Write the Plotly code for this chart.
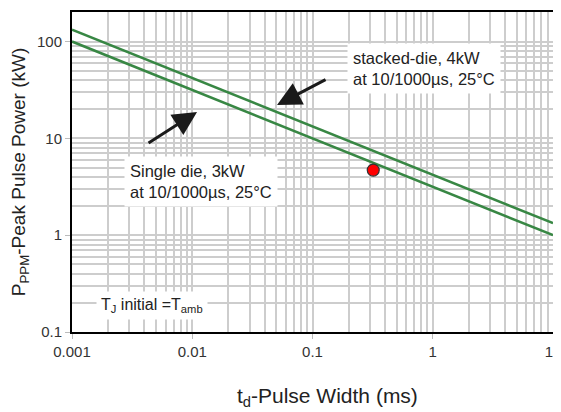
import plotly.graph_objects as go

# Data
pulse_width_ms = [0.001, 0.01, 0.1, 1, 10]
single_die_kw = [100, 31.6, 10, 3.16, 1.0]
stacked_die_kw = [133, 42, 13.3, 4.2, 1.33]
marker_x = [0.32]
marker_y = [4.7]

x_ticks = [0.001, 0.01, 0.1, 1, 10]
x_ticklabels = ["0.001", "0.01", "0.1", "1", "10"]
y_ticks = [0.1, 1, 10, 100]
y_ticklabels = ["0.1", "1", "10", "100"]

green = "rgb(56,135,68)"
font = "Liberation Sans, Arial, sans-serif"

x_minor = [m * 10 ** e for e in range(-3, 1) for m in range(2, 10)]
y_minor = [m * 10 ** e for e in range(-1, 3) for m in range(2, 10)]

fig = go.Figure()
fig.add_trace(go.Scatter(x=pulse_width_ms, y=stacked_die_kw, mode="lines",
                         line=dict(color=green, width=2.5), showlegend=False))
fig.add_trace(go.Scatter(x=pulse_width_ms, y=single_die_kw, mode="lines",
                         line=dict(color=green, width=2.5), showlegend=False))
fig.add_trace(go.Scatter(x=marker_x, y=marker_y, mode="markers",
                         marker=dict(color="red", size=12, line=dict(color="#333", width=1.2)),
                         showlegend=False))

grid_c = "#cdcdcd"
fig.update_xaxes(type="log", range=[-3, 1], tickvals=x_ticks, ticktext=x_ticklabels,
                 showgrid=True, gridcolor=grid_c, gridwidth=1.5,
                 minor=dict(tickvals=x_minor, showgrid=True, gridcolor=grid_c, gridwidth=1.5, ticks=""),
                 ticks="outside", ticklen=5, tickcolor="#bbb",
                 showline=True, mirror=True, linecolor="black", linewidth=2,
                 tickfont=dict(family=font, size=15, color="#333"),
                 ticklabeloverflow="allow",
                 automargin=False, zeroline=False)
fig.update_yaxes(type="log", range=[-1, 2.305], tickvals=y_ticks, ticktext=y_ticklabels,
                 showgrid=True, gridcolor=grid_c, gridwidth=1.5,
                 minor=dict(tickvals=y_minor, showgrid=True, gridcolor=grid_c, gridwidth=1.5, ticks=""),
                 ticks="outside", ticklen=5, tickcolor="#bbb",
                 showline=True, mirror=True, linecolor="black", linewidth=2,
                 tickfont=dict(family=font, size=15, color="#333"),
                 ticklabeloverflow="allow",
                 title=dict(text="P<sub>PPM</sub>-Peak Pulse Power (kW)", font=dict(family=font, size=19, color="#222"),
                            standoff=10),
                 automargin=False, zeroline=False)

ann_font = dict(family=font, size=16.5, color="#222")
annotations = [
    dict(x=0.532, y=-0.203, xref="paper", yref="paper", xanchor="center", yanchor="middle",
         text="t<sub>d</sub>-Pulse Width (ms)", showarrow=False,
         font=dict(family=font, size=21, color="#222")),
    dict(x=-0.713, y=1.718, xref="x", yref="y", xanchor="left", yanchor="middle",
         text="stacked-die, 4kW<br>at 10/1000µs, 25°C", showarrow=False, align="left",
         bgcolor="white", borderpad=5, font=ann_font),
    dict(x=-2.568, y=0.550, xref="x", yref="y", xanchor="left", yanchor="middle",
         text="Single die, 3kW<br>at 10/1000µs, 25°C", showarrow=False, align="left",
         bgcolor="white", borderpad=5, font=ann_font),
    dict(x=-2.80, y=-0.725, xref="x", yref="y", xanchor="left", yanchor="middle",
         text="T<sub>J</sub> initial =T<sub>amb</sub>", showarrow=False, align="left",
         bgcolor="white", borderpad=4, font=dict(family=font, size=16, color="#222")),
    dict(x=-1.295, y=1.345, xref="x", yref="y", ax=-0.879, ay=1.614, axref="x", ayref="y",
         showarrow=True, arrowhead=2, arrowsize=1.6, arrowwidth=3, arrowcolor="#1a1a1a", text=""),
    dict(x=-1.960, y=1.273, xref="x", yref="y", ax=-2.376, ay=0.942, axref="x", ayref="y",
         showarrow=True, arrowhead=2, arrowsize=1.6, arrowwidth=3, arrowcolor="#1a1a1a", text=""),
]

# The page body adds an 8px margin, so the figure is sized/offset to compensate.
fig.update_layout(width=553, height=404, margin=dict(l=64, r=8, t=4, b=80),
                  plot_bgcolor="white", paper_bgcolor="white",
                  annotations=annotations, font=dict(family=font))

fig.write_html("out.html")
